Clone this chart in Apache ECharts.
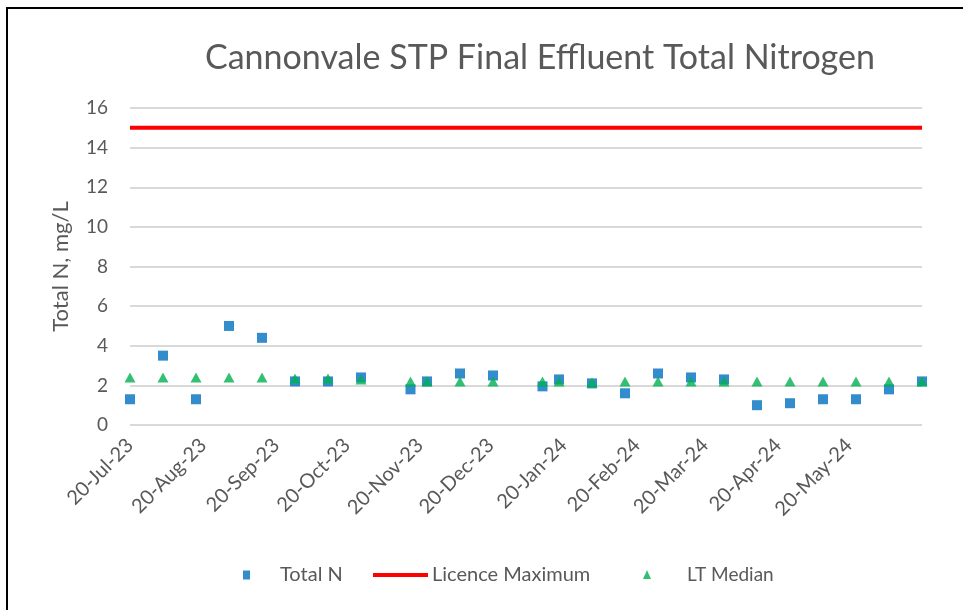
<!DOCTYPE html>
<html>
<head>
<meta charset="utf-8">
<script src="https://cdn.jsdelivr.net/npm/echarts@6/dist/echarts.min.js"></script>
<style>
  html, body { margin: 0; padding: 0; background: #fff; overflow: hidden; }
  #chart { position: absolute; left: 0; top: 0; width: 963px; height: 610px; }
  #frame { position: absolute; left: 6px; top: 7px; width: 960px; height: 610px;
           border-left: 2px solid #000; border-top: 2px solid #000; pointer-events: none; }
</style>
</head>
<body>
<div id="chart"></div>
<div id="frame"></div>
<script>
// sample dates (fortnightly)
var sampleDates = ['2023-07-20', '2023-08-03', '2023-08-17', '2023-08-31', '2023-09-14', '2023-09-28',
  '2023-10-12', '2023-10-26', '2023-11-16', '2023-11-23', '2023-12-07', '2023-12-21',
  '2024-01-11', '2024-01-18', '2024-02-01', '2024-02-15', '2024-02-29', '2024-03-14',
  '2024-03-28', '2024-04-11', '2024-04-25', '2024-05-09', '2024-05-23', '2024-06-06', '2024-06-20'];
var totalN = [1.3, 3.5, 1.3, 5.0, 4.4, 2.2, 2.2, 2.4, 1.8, 2.2, 2.6, 2.5,
  1.95, 2.3, 2.1, 1.6, 2.6, 2.4, 2.3, 1.0, 1.1, 1.3, 1.3, 1.8, 2.2];
var ltMedian = [2.4, 2.4, 2.4, 2.4, 2.4, 2.35, 2.35, 2.3, 2.2, 2.2, 2.2, 2.2,
  2.2, 2.2, 2.15, 2.2, 2.2, 2.2, 2.2, 2.2, 2.2, 2.2, 2.2, 2.2, 2.2];
var licenceMax = 15;
var tickDates = ['2023-07-20', '2023-08-20', '2023-09-20', '2023-10-20', '2023-11-20', '2023-12-20',
  '2024-01-20', '2024-02-20', '2024-03-20', '2024-04-20', '2024-05-20'];
var yTicks = [0, 2, 4, 6, 8, 10, 12, 14, 16];

var MONTHS = ['Jan', 'Feb', 'Mar', 'Apr', 'May', 'Jun', 'Jul', 'Aug', 'Sep', 'Oct', 'Nov', 'Dec'];
function toTime(s) {
  var p = s.split('-');
  return new Date(+p[0], +p[1] - 1, +p[2]).getTime();
}
function fmtDate(v) {
  var d = new Date(v);
  return d.getDate() + '-' + MONTHS[d.getMonth()] + '-' + String(d.getFullYear()).slice(2);
}

var grey = '#595959';
var font = 'Lato, "Liberation Sans", sans-serif';
var xMin = toTime(sampleDates[0]);
var xMax = toTime(sampleDates[sampleDates.length - 1]);

var chart = echarts.init(document.getElementById('chart'), null, { renderer: 'canvas' });
chart.setOption({
  animation: false,
  backgroundColor: '#fff',
  textStyle: { fontFamily: font },
  title: {
    text: 'Cannonvale STP Final Effluent Total Nitrogen',
    left: 200, top: 36,
    textStyle: { color: grey, fontSize: 34, fontWeight: 'normal', fontFamily: font }
  },
  grid: { left: 130, right: 41, top: 108, bottom: 185, containLabel: false },
  xAxis: {
    type: 'value',
    min: xMin, max: xMax,
    axisLine: { show: false },
    axisTick: { show: false },
    splitLine: { show: false },
    axisLabel: {
      customValues: tickDates.map(toTime),
      rotate: 45,
      color: grey,
      fontSize: 20,
      margin: 17,
      hideOverlap: false,
      formatter: function(v) { return fmtDate(v); }
    }
  },
  yAxis: {
    type: 'value',
    min: yTicks[0], max: yTicks[yTicks.length - 1], interval: 2,
    name: 'Total N, mg/L',
    nameLocation: 'middle',
    nameGap: 58,
    nameTextStyle: { color: grey, fontSize: 22, fontFamily: font },
    axisLine: { show: false },
    axisTick: { show: false },
    axisLabel: { color: grey, fontSize: 19, margin: 22 },
    splitLine: { lineStyle: { color: '#d9d9d9', width: 2 } }
  },
  legend: [
    {
      data: [{ name: 'Total N', icon: 'rect' }],
      left: 243, top: 565, padding: 0,
      itemWidth: 7, itemHeight: 9,
      textStyle: { color: grey, fontSize: 20, padding: [0, 0, 0, 25] }
    },
    {
      data: [{ name: 'Licence Maximum', icon: 'path://M0,0 H55 V4 H0 Z' }],
      left: 373, top: 565, padding: 0,
      itemWidth: 55, itemHeight: 4,
      textStyle: { color: grey, fontSize: 20, padding: [0, 0, 0, -1] }
    },
    {
      data: [{ name: 'LT Median', icon: 'triangle' }],
      left: 643, top: 565, padding: 0,
      itemWidth: 8, itemHeight: 9,
      textStyle: { color: grey, fontSize: 19, padding: [0, 0, 0, 31] }
    }
  ],
  series: [
    {
      name: 'Total N',
      type: 'scatter',
      symbol: 'rect',
      symbolSize: 10,
      itemStyle: { color: '#0070C0' },
      z: 3,
      data: sampleDates.map(function(d, i) { return [toTime(d), totalN[i]]; })
    },
    {
      name: 'Licence Maximum',
      type: 'line',
      showSymbol: false,
      color: '#FF0000',
      lineStyle: { color: '#FF0000', width: 4 },
      z: 2,
      data: [[xMin, licenceMax], [xMax, licenceMax]]
    },
    {
      name: 'LT Median',
      type: 'scatter',
      symbol: 'triangle',
      symbolSize: [11, 10],
      itemStyle: { color: '#00B050' },
      z: 4,
      data: sampleDates.map(function(d, i) { return [toTime(d), ltMedian[i]]; })
    }
  ]
});
</script>
</body>
</html>
